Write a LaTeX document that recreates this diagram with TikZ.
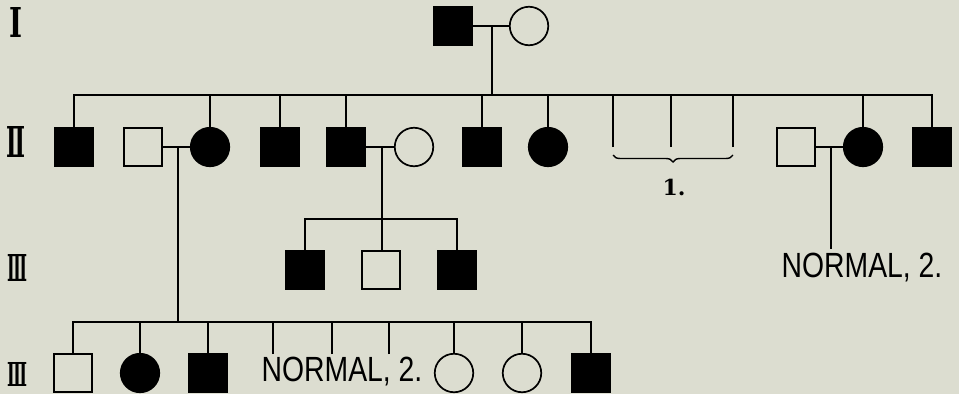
\documentclass[tikz,border=0pt]{standalone}
\usepackage{fontspec}
\newfontfamily\numfont{DejaVu Serif}
\newfontfamily\handfont{Liberation Sans}
\usetikzlibrary{decorations.pathreplacing}
\definecolor{bg}{RGB}{220,221,208}
\begin{document}
\begin{tikzpicture}[x=1pt,y=-1pt,line width=1.7pt,
  aff/.style={rectangle,draw,fill=black,minimum size=38pt,inner sep=0pt},
  unsq/.style={rectangle,draw,minimum size=38pt,inner sep=0pt},
  faff/.style={circle,draw,fill=black,minimum size=38.5pt,inner sep=0pt},
  fun/.style={circle,draw,minimum size=38.5pt,inner sep=0pt},
  gen/.style={inner sep=0pt},
  note/.style={inner sep=0pt,font=\handfont\fontsize{35}{35}\selectfont},
  brc/.style={decorate,decoration={brace,mirror,amplitude=7pt},line width=1.4pt}]
\fill[bg] (0,0) rectangle (959,394);
\useasboundingbox (0,0) rectangle (959,394);
% generation labels
\node[gen] (g1) at (16,22) {\resizebox{13pt}{30pt}{\numfont\bfseries Ⅰ}};
\node[gen] (g2) at (16,142) {\resizebox{19pt}{31pt}{\numfont\bfseries Ⅱ}};
\node[gen] (g3) at (17,268) {\resizebox{20pt}{27pt}{\numfont\bfseries Ⅲ}};
\node[gen] (g4) at (17,374) {\resizebox{20pt}{24pt}{\numfont\bfseries Ⅲ}};
% generation I
\node[aff] (i1) at (453,26) {};
\node[fun] (i2) at (529,26) {};
\draw (i1.east) -- (i2.west);
\coordinate (m0) at (492,26);
\coordinate (s2) at (0,95);
% generation II
\node[aff]  (a1)  at (74,147) {};
\node[unsq] (a2)  at (143,147) {};
\node[faff] (a3)  at (210,147) {};
\node[aff]  (a4)  at (280,147) {};
\node[aff]  (a5)  at (346,147) {};
\node[fun]  (a6)  at (414,147) {};
\node[aff]  (a7)  at (482,147) {};
\node[faff] (a8)  at (548,147) {};
\coordinate (u1) at (613,147);
\coordinate (u2) at (671,147);
\coordinate (u3) at (733,147);
\node[unsq] (a10) at (796,147) {};
\node[faff] (a11) at (863,147) {};
\node[aff]  (a12) at (932,147) {};
\draw (m0) -- (m0 |- s2);
\draw (a1.north) -- (a1.north |- s2) -- (a12.north |- s2) -- (a12.north);
\foreach \n in {a3,a4,a5,a7,a8,a11} \draw (\n.north) -- (\n.north |- s2);
\foreach \n in {u1,u2,u3} \draw (\n) -- (\n |- s2);
\coordinate (br1) at (613,155);
\coordinate (br2) at (733,155);
\draw[brc] (br1) -- (br2);
\node[inner sep=0pt,font=\numfont\bfseries\fontsize{22}{22}\selectfont] (one) at (674,187) {1.};
% marriages in II
\draw (a2.east) -- (a3.west);
\draw (a5.east) -- (a6.west);
\draw (a10.east) -- (a11.west);
\coordinate (m2) at (178,147);
\coordinate (m5) at (382,147);
\coordinate (m10) at (831,147);
\coordinate (s3) at (0,219);
\coordinate (s4) at (0,322);
% generation III (first)
\node[aff]  (b1) at (305,270) {};
\node[unsq] (b2) at (381,270) {};
\node[aff]  (b3) at (457,270) {};
\draw (m5) -- (m5 |- b2.north);
\draw (b1.north) -- (b1.north |- s3) -- (b3.north |- s3) -- (b3.north);
\node[note] (n1) at (862,268) {\scalebox{0.81}[1]{NORMAL, 2.}};
\coordinate (n1t) at (831,249);
\draw (m10) -- (n1t);
% generation III (second)
\node[unsq] (c1) at (73,373) {};
\node[faff] (c2) at (140,373) {};
\node[aff]  (c3) at (208,373) {};
\coordinate (v1) at (273,354);
\coordinate (v2) at (332,354);
\coordinate (v3) at (389,354);
\node[note] (n2) at (342,372) {\scalebox{0.81}[1]{NORMAL, 2.}};
\node[fun]  (c4) at (454,373) {};
\node[fun]  (c5) at (522,373) {};
\node[aff]  (c6) at (591,373) {};
\draw (m2) -- (m2 |- s4);
\draw (c1.north) -- (c1.north |- s4) -- (c6.north |- s4) -- (c6.north);
\foreach \n in {c2,c3,c4,c5} \draw (\n.north) -- (\n.north |- s4);
\foreach \n in {v1,v2,v3} \draw (\n) -- (\n |- s4);
\end{tikzpicture}
\end{document}
